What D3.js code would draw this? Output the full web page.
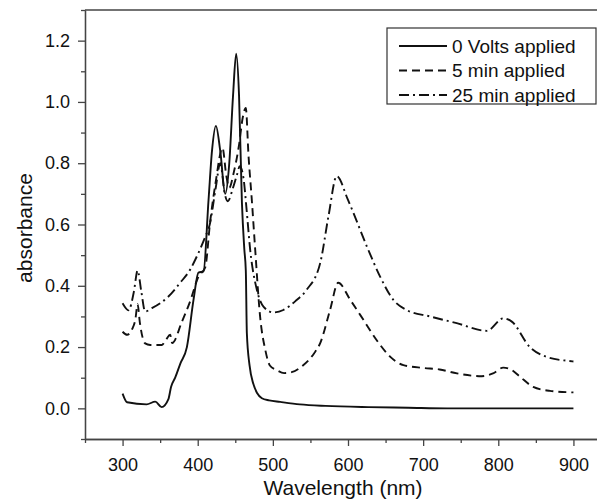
<!DOCTYPE html>
<html>
<head>
  <meta charset="utf-8">
  <title>Absorbance spectra</title>
  <script src="https://d3js.org/d3.v7.min.js"></script>
  <style>
    body { margin: 0; background: #fff; font-family: "Liberation Sans", Arial, sans-serif; }
    .axis path, .axis line { stroke: #444; stroke-width: 1.3px; }
    .axis text { font-size: 18px; fill: #111; font-family: "Liberation Sans", Arial, sans-serif; }
    .curve { fill: none; stroke: #111; stroke-width: 1.9px; }
  </style>
</head>
<body>
<script>
// 0 Volts applied
var volt0Wl  = [300, 306, 332, 343.5, 352, 361, 364.5, 370, 377, 385.6, 394.4, 401, 407.7, 414.4, 419, 424.2, 430, 436.6, 442, 447, 451.2, 455, 458.8, 462, 464, 465.4, 469, 474, 479, 485.4, 495, 509.7, 536, 570, 627, 680, 732, 800, 900];
var volt0Abs = [0.048, 0.02, 0.013, 0.022, 0.004, 0.03, 0.07, 0.10, 0.147, 0.20, 0.354, 0.443, 0.447, 0.68, 0.84, 0.922, 0.84, 0.70, 0.80, 1.02, 1.157, 1.02, 0.673, 0.52, 0.45, 0.245, 0.14, 0.08, 0.05, 0.033, 0.026, 0.021, 0.013, 0.008, 0.004, 0.002, 0.0, 0.0, 0.0];

// 5 min applied
var min5Wl  = [300, 306, 313, 317, 320, 323, 330, 336.8, 352.4, 358, 363.4, 366, 379, 390, 401, 410, 416.6, 424, 433, 438, 442, 448, 455, 460, 464, 467.6, 472, 476.5, 483, 490, 496, 505, 515, 525, 540, 555, 563, 576, 587, 603, 620.5, 638, 656, 673.7, 700, 722, 745, 778, 793, 806.6, 818, 829, 846.5, 868.7, 900];
var min5Abs = [0.25, 0.24, 0.26, 0.29, 0.34, 0.28, 0.212, 0.207, 0.207, 0.225, 0.24, 0.213, 0.283, 0.35, 0.43, 0.46, 0.61, 0.74, 0.85, 0.76, 0.72, 0.77, 0.86, 0.95, 0.98, 0.825, 0.68, 0.518, 0.30, 0.19, 0.14, 0.125, 0.115, 0.118, 0.14, 0.18, 0.213, 0.32, 0.41, 0.354, 0.289, 0.223, 0.169, 0.141, 0.132, 0.127, 0.114, 0.105, 0.114, 0.133, 0.125, 0.103, 0.07, 0.057, 0.052];

// 25 min applied
var min25Wl  = [300, 308, 315, 320, 325, 330, 339, 361, 376.7, 390, 396.7, 410, 416, 424, 430, 436, 440, 447, 452, 456, 461, 465, 469.8, 478.7, 487.5, 500.8, 514, 530, 545, 563, 574, 585, 600, 625, 642.7, 660.4, 678, 709, 744.7, 784.6, 806.7, 818, 842, 864, 892.7, 900];
var min25Abs = [0.343, 0.32, 0.38, 0.45, 0.38, 0.316, 0.327, 0.365, 0.41, 0.453, 0.485, 0.56, 0.60, 0.72, 0.80, 0.70, 0.676, 0.72, 0.76, 0.79, 0.75, 0.65, 0.518, 0.387, 0.332, 0.313, 0.321, 0.35, 0.387, 0.474, 0.627, 0.758, 0.68, 0.529, 0.43, 0.354, 0.321, 0.30, 0.278, 0.253, 0.294, 0.283, 0.20, 0.168, 0.155, 0.153];

var seriesNames = ["0 Volts applied", "5 min applied", "25 min applied"];
var xMajor = [300, 400, 500, 600, 700, 800, 900];
var xMinor = [250, 350, 450, 550, 650, 750, 850, 950];
var yMajor = [0.0, 0.2, 0.4, 0.6, 0.8, 1.0, 1.2];
var yMinor = [-0.1, 0.1, 0.3, 0.5, 0.7, 0.9, 1.1, 1.3];

var W = 597, H = 500;
var plotBox = {left: 85, top: 10, right: 611, bottom: 439};

var svg = d3.select("body").append("svg")
  .attr("width", W)
  .attr("height", H);

var x = d3.scaleLinear().domain([250, 950]).range([plotBox.left, plotBox.right]);
var y = d3.scaleLinear().domain([-0.1, 1.3]).range([plotBox.bottom, plotBox.top]);

svg.append("defs").append("clipPath").attr("id", "plotclip")
  .append("rect")
  .attr("x", plotBox.left).attr("y", plotBox.top)
  .attr("width", plotBox.right - plotBox.left).attr("height", plotBox.bottom - plotBox.top);

// minor ticks
svg.append("g").attr("class", "axis")
  .attr("transform", "translate(0," + plotBox.bottom + ")")
  .call(d3.axisBottom(x).tickValues(xMinor).tickSize(4).tickSizeOuter(0).tickFormat(""));
svg.append("g").attr("class", "axis")
  .attr("transform", "translate(" + plotBox.left + ",0)")
  .call(d3.axisLeft(y).tickValues(yMinor).tickSize(4).tickSizeOuter(0).tickFormat(""));

// major ticks
svg.append("g").attr("class", "axis")
  .attr("transform", "translate(0," + plotBox.bottom + ")")
  .call(d3.axisBottom(x).tickValues(xMajor).tickSize(7).tickSizeOuter(0).tickPadding(12).tickFormat(d3.format("d")));
svg.append("g").attr("class", "axis")
  .attr("transform", "translate(" + plotBox.left + ",0)")
  .call(d3.axisLeft(y).tickValues(yMajor).tickSize(7).tickSizeOuter(0).tickPadding(8).tickFormat(d3.format(".1f")));

// frame top
svg.append("line")
  .attr("x1", plotBox.left).attr("x2", plotBox.right)
  .attr("y1", plotBox.top).attr("y2", plotBox.top)
  .attr("stroke", "#444").attr("stroke-width", 1.3);

// axis titles
svg.append("text")
  .attr("x", 343)
  .attr("y", 495)
  .attr("text-anchor", "middle")
  .style("font-size", "21px")
  .style("fill", "#111")
  .text("Wavelength (nm)");

svg.append("text")
  .attr("transform", "translate(32,228) rotate(-90)")
  .attr("text-anchor", "middle")
  .style("font-size", "21px")
  .style("fill", "#111")
  .text("absorbance");

// curves
var line = d3.line()
  .curve(d3.curveMonotoneX)
  .x(function(d) { return x(d[0]); })
  .y(function(d) { return y(d[1]); });

var dashes = [null, "8,5", "10,4,2,4"];
var series = [
  d3.zip(volt0Wl, volt0Abs),
  d3.zip(min5Wl, min5Abs),
  d3.zip(min25Wl, min25Abs)
];

var plot = svg.append("g").attr("clip-path", "url(#plotclip)");
series.forEach(function(s, i) {
  plot.append("path")
    .datum(s)
    .attr("class", "curve")
    .attr("stroke-dasharray", dashes[i])
    .attr("d", line);
});

// legend
var lg = svg.append("g");
lg.append("rect")
  .attr("x", 387).attr("y", 28)
  .attr("width", 209).attr("height", 76)
  .attr("fill", "#fff")
  .attr("stroke", "#333")
  .attr("stroke-width", 1.2);

seriesNames.forEach(function(name, i) {
  var ry = 46 + i * 24.5;
  lg.append("line")
    .attr("x1", 399).attr("x2", 447)
    .attr("y1", ry).attr("y2", ry)
    .attr("class", "curve")
    .attr("stroke-dasharray", dashes[i]);
  lg.append("text")
    .attr("x", 452)
    .attr("y", ry)
    .attr("dy", "0.35em")
    .style("font-size", "19px")
    .style("fill", "#111")
    .text(name);
});
</script>
</body>
</html>
